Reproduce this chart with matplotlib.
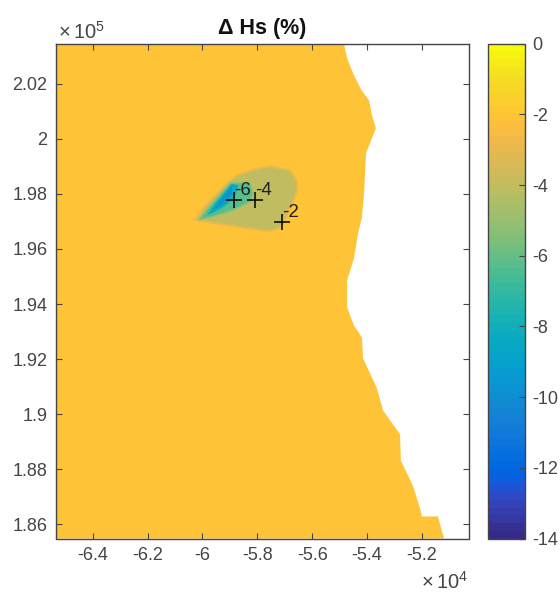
import matplotlib
matplotlib.use("Agg")
import matplotlib.pyplot as plt
from matplotlib.colors import ListedColormap, Normalize
from matplotlib.cm import ScalarMappable

plt.rcParams['font.family'] = ['Liberation Sans', 'DejaVu Sans']
plt.rcParams['mathtext.fontset'] = 'custom'
plt.rcParams['mathtext.rm'] = 'Liberation Sans'

# MATLAB parula, 64 levels
parula = [[0.2081,0.1663,0.5292],[0.2116,0.1898,0.5777],[0.2123,0.2138,0.6270],[0.2081,0.2386,0.6771],
[0.1959,0.2645,0.7279],[0.1707,0.2919,0.7792],[0.1253,0.3242,0.8303],[0.0591,0.3598,0.8683],
[0.0117,0.3875,0.8820],[0.0060,0.4086,0.8828],[0.0165,0.4266,0.8786],[0.0329,0.4430,0.8720],
[0.0498,0.4586,0.8641],[0.0629,0.4737,0.8554],[0.0723,0.4887,0.8467],[0.0779,0.5040,0.8384],
[0.0793,0.5200,0.8312],[0.0749,0.5375,0.8263],[0.0641,0.5570,0.8240],[0.0488,0.5772,0.8228],
[0.0343,0.5966,0.8199],[0.0265,0.6137,0.8135],[0.0239,0.6287,0.8038],[0.0231,0.6418,0.7913],
[0.0228,0.6535,0.7768],[0.0267,0.6642,0.7607],[0.0384,0.6743,0.7436],[0.0590,0.6838,0.7254],
[0.0843,0.6928,0.7062],[0.1133,0.7015,0.6859],[0.1453,0.7098,0.6646],[0.1801,0.7177,0.6424],
[0.2178,0.7250,0.6193],[0.2586,0.7317,0.5954],[0.3022,0.7376,0.5712],[0.3482,0.7424,0.5473],
[0.3953,0.7459,0.5244],[0.4420,0.7481,0.5033],[0.4871,0.7491,0.4840],[0.5300,0.7491,0.4661],
[0.5709,0.7485,0.4494],[0.6099,0.7473,0.4337],[0.6473,0.7456,0.4188],[0.6834,0.7435,0.4044],
[0.7184,0.7411,0.3905],[0.7525,0.7384,0.3768],[0.7858,0.7356,0.3633],[0.8185,0.7327,0.3498],
[0.8507,0.7299,0.3360],[0.8824,0.7274,0.3217],[0.9139,0.7258,0.3063],[0.9450,0.7261,0.2886],
[0.9739,0.7314,0.2666],[0.9938,0.7455,0.2403],[0.9990,0.7653,0.2164],[0.9955,0.7861,0.1967],
[0.9880,0.8066,0.1794],[0.9789,0.8271,0.1633],[0.9697,0.8481,0.1475],[0.9626,0.8705,0.1309],
[0.9589,0.8949,0.1132],[0.9598,0.9218,0.0948],[0.9661,0.9514,0.0755],[0.9763,0.9831,0.0538]]

x_limits = [-6.535, -5.0305]
y_limits = [1.8549, 2.0345]
x_ticks = [-6.4, -6.2, -6.0, -5.8, -5.6, -5.4, -5.2]
x_tick_labels = ['-6.4', '-6.2', '-6', '-5.8', '-5.6', '-5.4', '-5.2']
y_ticks = [1.86, 1.88, 1.90, 1.92, 1.94, 1.96, 1.98, 2.00, 2.02]
y_tick_labels = ['1.86', '1.88', '1.9', '1.92', '1.94', '1.96', '1.98', '2', '2.02']
cbar_ticks = [-14, -12, -10, -8, -6, -4, -2, 0]

# Sea domain, bounded by the coast (x in 1e4, y in 1e5)
domain_x = [-6.535, -5.484, -5.473, -5.451, -5.422, -5.393, -5.382, -5.368, -5.404, -5.411, -5.419,
            -5.433, -5.448, -5.473, -5.473, -5.448, -5.419, -5.415, -5.364, -5.342, -5.280, -5.277,
            -5.233, -5.207, -5.200, -5.142, -5.120, -6.535]
domain_y = [2.0345, 2.0345, 2.0292, 2.0237, 2.0179, 2.0139, 2.0085, 2.0038, 1.9947, 1.9802, 1.9715,
            1.9656, 1.9566, 1.9486, 1.9388, 1.9322, 1.9279, 1.9203, 1.9094, 1.9014, 1.8927, 1.8832,
            1.8741, 1.8658, 1.8629, 1.8629, 1.8549, 1.8549]
domain_value = -2.0

# Hs-change regions behind the wave farm
outer_x = [-6.027, -5.997, -5.960, -5.912, -5.875, -5.815, -5.754, -5.681, -5.657, -5.654, -5.669,
           -5.693, -5.717, -5.754, -5.815, -5.900, -5.973]
outer_y = [1.9706, 1.9746, 1.9788, 1.9837, 1.9867, 1.9888, 1.9900, 1.9885, 1.9849, 1.9813, 1.9776,
           1.9722, 1.9677, 1.9665, 1.9673, 1.9685, 1.9697]
outer_value = -4.0

green_x = [-6.015, -5.973, -5.900, -5.827, -5.815, -5.827, -5.888, -5.960]
green_y = [1.9704, 1.9758, 1.9839, 1.9843, 1.9801, 1.9770, 1.9740, 1.9718]
green_value = -6.2

blue_x = [-5.985, -5.955, -5.893, -5.869, -5.881, -5.924, -5.965]
blue_y = [1.9722, 1.9764, 1.9837, 1.9831, 1.9788, 1.9752, 1.9730]
blue_value = -8.2

core_x = [-5.960, -5.925, -5.890, -5.895, -5.930]
core_y = [1.9742, 1.9790, 1.9830, 1.9795, 1.9760]
core_value = -9.8

point_x = [-5.885, -5.808, -5.709]
point_y = [1.9776, 1.9776, 1.9698]
point_labels = ['-6', '-4', '-2']

cmap = ListedColormap(parula)
norm = Normalize(-14, 0)
W, H = 560, 594

fig = plt.figure(figsize=(W / 100, H / 100), dpi=100)
ax = fig.add_axes([55.7 / W, 1 - 538.5 / H, (468.5 - 55.7) / W, (538.5 - 43.7) / H])
cax = fig.add_axes([487.7 / W, 1 - 538.5 / H, (525 - 487.7) / W, (538.5 - 43.7) / H])

ax.fill(domain_x, domain_y, color=cmap(norm(domain_value)), lw=0, zorder=1)
ax.fill(outer_x, outer_y, facecolor=cmap(norm(outer_value)), edgecolor=cmap(norm(-3.0)), lw=1.5, zorder=2)
ax.fill(green_x, green_y, facecolor=cmap(norm(green_value)), edgecolor=cmap(norm(-5)), lw=1, zorder=3)
ax.fill(blue_x, blue_y, facecolor=cmap(norm(blue_value)), lw=0, zorder=4)
ax.fill(core_x, core_y, facecolor=cmap(norm(core_value)), lw=0, zorder=5)

ax.plot(point_x, point_y, '+', color='black', ms=11, mew=1.1, zorder=6)
for px, py, lab in zip(point_x, point_y, point_labels):
    ax.annotate(lab, (px, py), xytext=(0, 1), textcoords='offset points', fontsize=13.5,
                color='#202020', ha='left', va='bottom', zorder=7)

ax.set_xlim(x_limits)
ax.set_ylim(y_limits)
ax.set_xticks(x_ticks, x_tick_labels)
ax.set_yticks(y_ticks, y_tick_labels)
ax.set_title('Δ Hs (%)', fontsize=15.5, fontweight='bold', color='#111111', pad=7)

gray = '#454545'
ax.tick_params(direction='in', top=True, right=True, length=4, width=0.8, color=gray,
               labelcolor=gray, labelsize=13, pad=6)
for s in ax.spines.values():
    s.set_color(gray)
    s.set_linewidth(1.0)

cb = fig.colorbar(ScalarMappable(norm=norm, cmap=cmap), cax=cax, ticks=cbar_ticks)
cb.ax.set_yticklabels([str(t) for t in cbar_ticks])
cb.ax.tick_params(direction='in', right=True, length=4, width=0.8, color=gray,
                  labelcolor=gray, labelsize=13, pad=5)
cb.outline.set_edgecolor(gray)
cb.outline.set_linewidth(1.0)

fig.text(58 / W, 1 - 39 / H, r'$\mathregular{\times\,10^{5}}$', fontsize=14.5, color=gray, ha='left', va='baseline')
fig.text(421 / W, 1 - 589 / H, r'$\mathregular{\times\,10^{4}}$', fontsize=14.5, color=gray, ha='left', va='baseline')

fig.savefig('out.png', dpi=100)
